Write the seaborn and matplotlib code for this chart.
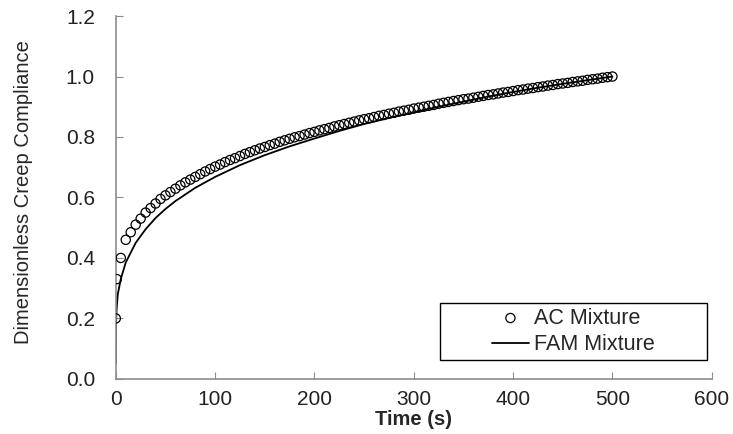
import numpy as np
import pandas as pd
import matplotlib
matplotlib.use("Agg")
import matplotlib.pyplot as plt
from matplotlib.patches import Rectangle
import seaborn as sns

# AC Mixture - gemessene Punkte (alle 5 s)
ac_time = [0, 1] + list(range(5, 505, 5))
ac_comp = [0.200, 0.330,
           0.400, 0.460, 0.485, 0.510, 0.530, 0.550, 0.565, 0.580, 0.595, 0.607,
           0.618, 0.629, 0.640, 0.650, 0.659, 0.668, 0.677, 0.686, 0.694, 0.702,
           0.709, 0.717, 0.724, 0.730, 0.737, 0.744, 0.750, 0.756, 0.762, 0.767,
           0.773, 0.778, 0.784, 0.789, 0.794, 0.799, 0.803, 0.808, 0.813, 0.817,
           0.822, 0.826, 0.830, 0.835, 0.839, 0.843, 0.847, 0.851, 0.855, 0.859,
           0.862, 0.866, 0.870, 0.873, 0.877, 0.880, 0.884, 0.887, 0.890, 0.894,
           0.897, 0.900, 0.903, 0.906, 0.910, 0.913, 0.916, 0.919, 0.922, 0.925,
           0.927, 0.930, 0.933, 0.936, 0.939, 0.941, 0.944, 0.947, 0.949, 0.952,
           0.955, 0.957, 0.960, 0.962, 0.965, 0.967, 0.970, 0.972, 0.975, 0.977,
           0.979, 0.982, 0.984, 0.986, 0.989, 0.991, 0.993, 0.996, 0.998, 1.000]

# FAM Mixture - Kurve
fam_time = [0, 0.1, 0.5, 1, 2, 5, 10, 20, 30, 40, 50, 60, 80, 100, 125, 150,
            175, 200, 225, 250, 275, 300, 325, 350, 375, 400, 425, 450, 475, 500]
fam_comp = [0.05, 0.15, 0.21, 0.24, 0.28, 0.33, 0.385, 0.45, 0.495, 0.532,
            0.562, 0.588, 0.632, 0.668, 0.707, 0.740, 0.769, 0.795, 0.820,
            0.843, 0.863, 0.882, 0.900, 0.917, 0.934, 0.949, 0.963, 0.976,
            0.988, 1.000]

df_ac = pd.DataFrame({"Time": ac_time, "Compliance": ac_comp})
df_fam = pd.DataFrame({"Time": fam_time, "Compliance": fam_comp})

sns.set_style("ticks")
plt.rcParams["font.family"] = ["Liberation Sans", "DejaVu Sans"]

fig = plt.figure(figsize=(7.33, 4.34), dpi=100)
ax = fig.add_axes([0.158, 0.127, 0.813, 0.836])

sns.lineplot(data=df_fam, x="Time", y="Compliance", color="black", linewidth=1.3,
             label="FAM Mixture", ax=ax, zorder=2)
sns.scatterplot(data=df_ac, x="Time", y="Compliance", marker="o", s=44,
                facecolor="none", edgecolor="black", linewidth=0.9,
                label="AC Mixture", ax=ax, zorder=3)

ax.set_xlim(0, 600)
ax.set_ylim(0, 1.2)
ax.set_xticks(np.arange(0, 601, 100))
ax.set_yticks(np.arange(0, 1.21, 0.2))
ax.set_yticklabels([f"{v:.1f}" for v in np.arange(0, 1.21, 0.2)])

sns.despine(ax=ax)
for s in ["left", "bottom"]:
    ax.spines[s].set_color("#8c8c8c")
    ax.spines[s].set_linewidth(1.2)
ax.tick_params(direction="in", length=5, color="#8c8c8c", labelsize=15,
               labelcolor="#222222")
ax.tick_params(axis="y", pad=15)
ax.tick_params(axis="x", pad=8)

ax.set_xlabel("Time (s)", fontsize=14.5, fontweight="bold", labelpad=1)
ax.set_ylabel("Dimensionless Creep Compliance", fontsize=14.5)
ax.yaxis.set_label_coords(-0.139, 0.515)

# Legende: erst AC, dann FAM, Rahmen separat gezeichnet
handles, labels = ax.get_legend_handles_labels()
order = [labels.index("AC Mixture"), labels.index("FAM Mixture")]
leg = ax.legend([handles[i] for i in order], [labels[i] for i in order],
                loc="center", bbox_to_anchor=(0.768, 0.131), fontsize=15.5,
                frameon=False, handlelength=1.7, handletextpad=0.25,
                borderpad=0, labelspacing=0.25)
ax.add_patch(Rectangle((0.544, 0.052), 0.448, 0.157, transform=ax.transAxes,
                       fill=False, edgecolor="black", linewidth=1.0,
                       clip_on=False, zorder=4))

plt.savefig("out.png", dpi=100)
plt.close()
